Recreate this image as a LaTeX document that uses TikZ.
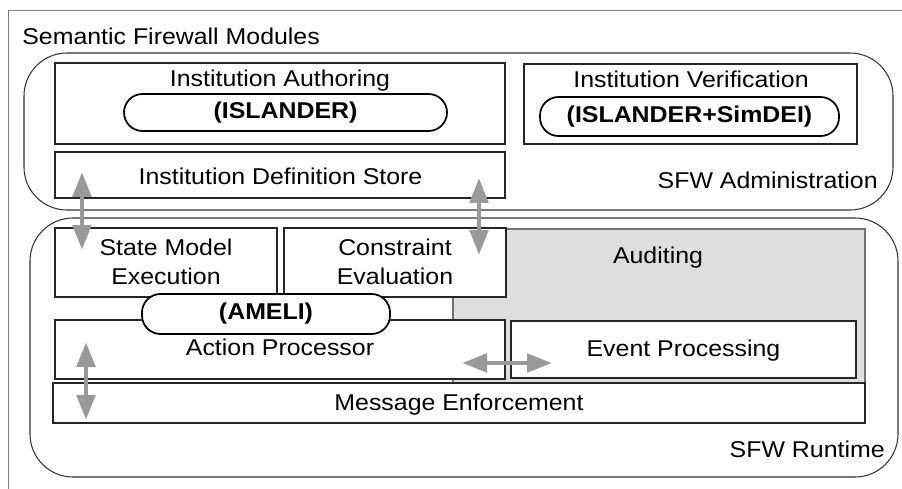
\documentclass[tikz,border=0pt]{standalone}
\usepackage{fontspec}
\setmainfont{Liberation Sans}[FakeStretch=1.09]
\usetikzlibrary{arrows.meta}

\tikzset{
  frame/.style={black!50, line width=0.8pt},
  region/.style={black!80, line width=0.6pt, rounded corners=0.86cm},
  box/.style={black!85, line width=0.6pt, fill=white},
  audit/.style={black!55, line width=0.6pt, fill=black!13},
  pill/.style={black, line width=1pt, fill=white, rounded corners=0.37cm},
  lbl/.style={inner sep=0pt, anchor=base, font=\fontsize{13}{16.4}\selectfont},
  tag/.style={inner sep=0pt, anchor=center, font=\fontsize{13}{16.4}\selectfont\bfseries},
  dblarrow/.style={black!40, line width=2.8pt,
    {Triangle[length=0.5cm,width=0.36cm]}-{Triangle[length=0.5cm,width=0.36cm]}}
}

\begin{document}
\begin{tikzpicture}[x=0.02cm, y=-0.02cm]
\useasboundingbox (0,0) rectangle (902,489);

% outer frame
\draw[frame] (902,10.5) -- (8.5,10.5) -- (8.5,489);
\node[lbl, anchor=base west] (modules) at (22,45) {Semantic Firewall Modules};

% administration
\draw[region] (24,53) rectangle (893,210);
\node[lbl, anchor=base east] (admin) at (878,189) {SFW Administration};

\draw[box] (55,63) rectangle (505,144);
\node[lbl] (authoring) at (280,87) {Institution Authoring};
\draw[pill] (124,94) rectangle (447,131);
\node[tag] (islander) at (285.5,112.5) {(ISLANDER)};

\draw[box] (524,64) rectangle (857,144);
\node[lbl] (verification) at (691,88) {Institution Verification};
\draw[pill] (540,97) rectangle (839,136);
\node[tag] (simdei) at (689.5,116.5) {(ISLANDER+SimDEI)};

\draw[box] (55,152) rectangle (505,198);
\node[lbl] (store) at (280.5,185) {Institution Definition Store};

% runtime
\draw[region] (30,218) rectangle (898,477);
\node[lbl, anchor=base east] (runtime) at (885,457) {SFW Runtime};

\draw[audit] (453,229) rectangle (865,383);
\node[lbl] (auditing) at (658,264) {Auditing};

\draw[box] (55,228) rectangle (277,297);
\node[lbl, anchor=center, align=center] (state) at (166,262) {State Model\\Execution};
\draw[box] (284,228) rectangle (506,297);
\node[lbl, anchor=center, align=center] (constraint) at (395,262) {Constraint\\Evaluation};

\draw[box] (55,320) rectangle (505,379);
\node[lbl] (action) at (280,356) {Action Processor};
\draw[box] (511,321) rectangle (856,378);
\node[lbl] (event) at (683.5,357) {Event Processing};
\draw[box] (53,383) rectangle (865,423);
\node[lbl] (enforce) at (459,410) {Message Enforcement};

\draw[pill] (142,294) rectangle (390,334);
\node[tag] (ameli) at (266,314) {(AMELI)};

% arrows
\coordinate (storeL) at (82,172);
\coordinate (stateT) at (82,250);
\coordinate (storeR) at (479,178);
\coordinate (constrT) at (479,255);
\coordinate (actionL) at (86,342);
\coordinate (enforceL) at (86,420);
\coordinate (actionR) at (462,363);
\coordinate (eventL) at (552,363);

\draw[dblarrow] (storeL) -- (stateT);
\draw[dblarrow] (storeR) -- (constrT);
\draw[dblarrow] (actionL) -- (enforceL);
\draw[dblarrow] (actionR) -- (eventL);

\end{tikzpicture}
\end{document}
